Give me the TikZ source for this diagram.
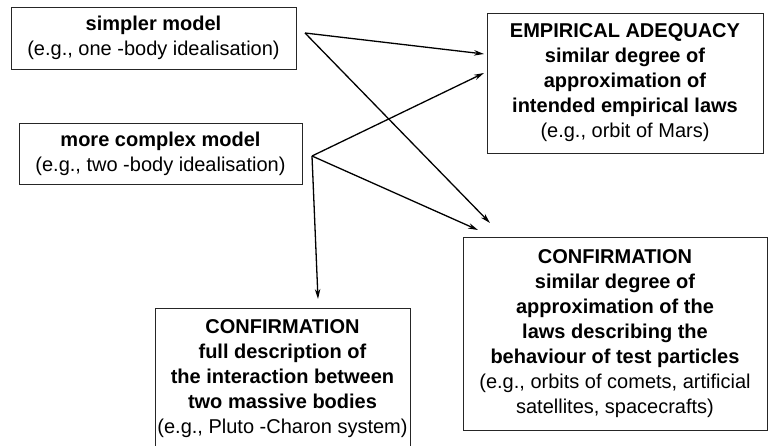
\documentclass[tikz,border=0pt]{standalone}
\usepackage{fontspec}
\setmainfont{Liberation Sans}
\usetikzlibrary{arrows.meta}
\begin{document}
\begin{tikzpicture}[x=1pt,y=-1pt,
  box/.style={draw=black!85, line width=0.9pt, inner sep=0pt, align=center,
              font=\fontsize{20}{25}\selectfont},
  link/.style={line width=1.3pt, -{Stealth[length=10pt,width=5.5pt]}}]
\useasboundingbox (0,0) rectangle (769,446);

% models
\node[box, minimum width=285, minimum height=62] (simple) at (153.5,38)
  {\textbf{simpler model}\\(e.g., one -body idealisation)};
\node[box, minimum width=283, minimum height=61] (complex) at (160.5,153.5)
  {\textbf{more complex model}\\(e.g., two -body idealisation)};

% virtues
\node[box, minimum width=276, minimum height=140] (adequacy) at (625,83)
  {\textbf{EMPIRICAL ADEQUACY}\\\textbf{similar degree of}\\\textbf{approximation of}\\
   \textbf{intended empirical laws}\\(e.g., orbit of Mars)};
\node[box, minimum width=304, minimum height=193] (confirmR) at (615,333.5)
  {\textbf{CONFIRMATION}\\\textbf{similar degree of}\\\textbf{approximation of the}\\
   \textbf{laws describing the}\\\textbf{behaviour of test particles}\\
   (e.g., orbits of comets, artificial\\satellites, spacecrafts)};
\node[box, minimum width=255, minimum height=142] (confirmB) at (282.5,379)
  {\textbf{CONFIRMATION}\\\textbf{full description of}\\\textbf{the interaction between}\\
   \textbf{two massive bodies}\\(e.g., Pluto -Charon system)};

% arrow origins and tips
\coordinate (s1) at (305,33);
\coordinate (s2) at (312,156);
\coordinate (t1) at (484,54);
\coordinate (t2) at (490,223);
\coordinate (t3) at (484,73);
\coordinate (t4) at (478,230);
\coordinate (t5) at (318,299);

\draw[link] (s1) -- (t1);
\draw[link] (s1) -- (t2);
\draw[link] (s2) -- (t3);
\draw[link] (s2) -- (t4);
\draw[link] (s2) -- (t5);
\end{tikzpicture}
\end{document}
